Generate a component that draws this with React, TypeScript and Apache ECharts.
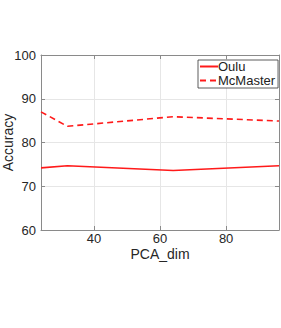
import React, { useEffect, useRef } from "react";
import * as echarts from "echarts";

const pcaDims = [24, 32, 64, 96];
const ouluAcc = [74.2, 74.7, 73.6, 74.7];
const mcmasterAcc = [87.0, 83.7, 85.9, 84.9];
const yTicks = [60, 70, 80, 90, 100];
const xTicks = [40, 60, 80];

export default function App() {
  const ref = useRef<HTMLDivElement>(null);
  useEffect(() => {
    const chart = echarts.init(ref.current!, undefined, { renderer: "svg" });
    const font = "Liberation Sans, Arial, Helvetica, sans-serif";
    const axisCommon = {
      axisLine: { show: true, lineStyle: { color: "#8a8a8a", width: 1 } },
      axisTick: { show: true, inside: true, length: 4, lineStyle: { color: "#8a8a8a" } },
    };
    chart.setOption({
      animation: false,
      backgroundColor: "#ffffff",
      grid: { left: 41, right: 2, top: 55, bottom: 98, containLabel: false, outerBoundsMode: "none" },
      legend: {
        left: 198,
        top: 60,
        orient: "vertical",
        itemWidth: 18,
        itemHeight: 2,
        itemGap: 1,
        padding: [0, 3, 1, 2],
        borderColor: "#333",
        borderWidth: 0.8,
        backgroundColor: "#fff",
        textStyle: { fontFamily: font, fontSize: 13, color: "#222", padding: [0, 0, 0, -5], lineHeight: 13 },
        data: [
          { name: "Oulu", icon: "path://M0,0h18v2h-18z" },
          { name: "McMaster", icon: "path://M0,0h6v2h-6z M10,0h6v2h-6z M18,0h0v2h0z" },
        ],
      },
      xAxis: [
        {
          type: "value",
          min: 24,
          max: 96,
          name: "PCA_dim",
          nameLocation: "middle",
          nameGap: 17,
          nameMoveOverlap: false,
          nameTextStyle: { fontFamily: font, fontSize: 14, color: "#262626", lineHeight: 14 },
          ...axisCommon,
          axisTick: { ...axisCommon.axisTick, customValues: xTicks },
          axisLabel: { customValues: xTicks, fontFamily: font, fontSize: 13, color: "#262626", margin: 2, lineHeight: 13 },
          splitLine: { show: true, lineStyle: { color: "#e6e6e6" } },
        },
        {
          type: "value",
          position: "top",
          min: 24,
          max: 96,
          ...axisCommon,
          axisTick: { ...axisCommon.axisTick, customValues: xTicks },
          axisLabel: { show: false },
          splitLine: { show: false },
        },
      ],
      yAxis: [
        {
          type: "value",
          min: 60,
          max: 100,
          interval: 10,
          name: "Accuracy",
          nameLocation: "middle",
          nameGap: 26,
          nameMoveOverlap: false,
          nameTextStyle: { fontFamily: font, fontSize: 14, color: "#262626" },
          ...axisCommon,
          axisTick: { ...axisCommon.axisTick, customValues: yTicks },
          axisLabel: { customValues: yTicks, fontFamily: font, fontSize: 13, color: "#262626", margin: 5 },
          splitLine: { show: true, lineStyle: { color: "#e6e6e6" } },
        },
        {
          type: "value",
          position: "right",
          min: 60,
          max: 100,
          interval: 10,
          ...axisCommon,
          axisLabel: { show: false },
          splitLine: { show: false },
        },
      ],
      series: [
        {
          name: "Oulu",
          type: "line",
          data: pcaDims.map((d, i) => [d, ouluAcc[i]]),
          symbol: "none",
          lineStyle: { color: "#ff1a1a", width: 1.6 },
          itemStyle: { color: "#ff1a1a" },
        },
        {
          name: "McMaster",
          type: "line",
          data: pcaDims.map((d, i) => [d, mcmasterAcc[i]]),
          symbol: "none",
          lineStyle: { color: "#ff1a1a", width: 1.6, type: [6, 4] },
          itemStyle: { color: "#ff1a1a" },
        },
      ],
    });
    return () => chart.dispose();
  }, []);
  return (
    <div
      ref={ref}
      style={{ position: "fixed", left: 0, top: 0, width: 281, height: 328, background: "#fff" }}
    />
  );
}
